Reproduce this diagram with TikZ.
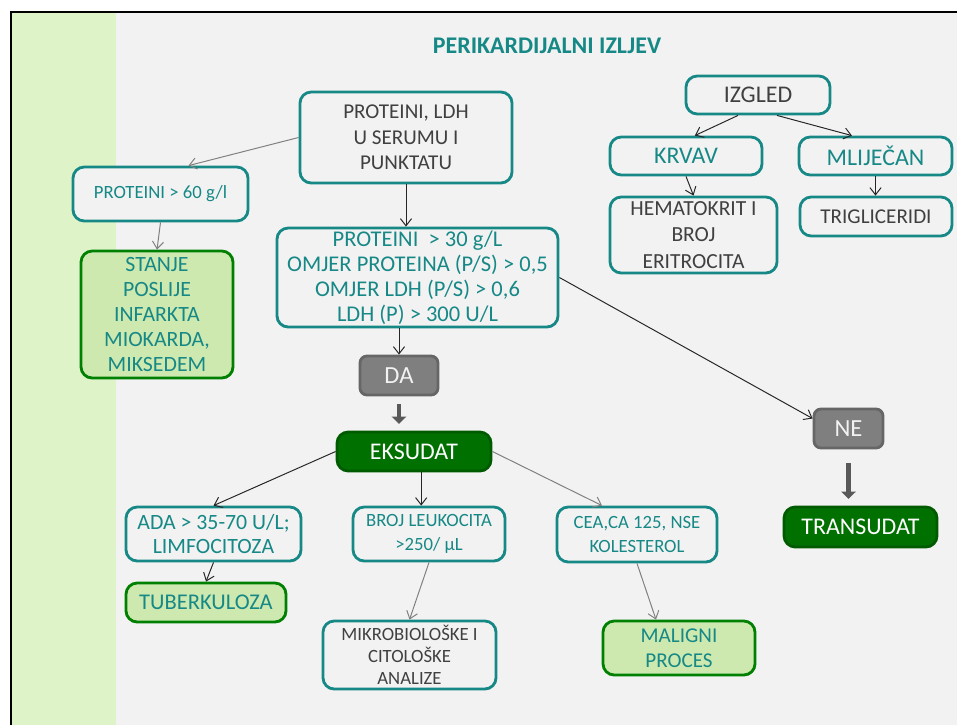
\documentclass[tikz,border=0pt]{standalone}
\usepackage{fontspec}
\setmainfont{Carlito}
\usepackage{xcolor}
\usepackage{tikz}
\usetikzlibrary{arrows.meta,positioning,calc}

\definecolor{tealline}{RGB}{22,136,134}
\definecolor{darktext}{RGB}{64,64,64}
\definecolor{lightgreen}{RGB}{205,233,175}
\definecolor{midgreen}{RGB}{0,128,0}
\definecolor{darkgreen}{RGB}{0,112,0}
\definecolor{boxgray}{RGB}{127,127,127}
\definecolor{bggray}{RGB}{242,242,242}
\definecolor{stripegreen}{RGB}{222,243,200}

\begin{document}
\begin{tikzpicture}[
    x=0.025cm, y=-0.025cm,
    box/.style={rectangle, draw=tealline, line width=2pt, rounded corners=8pt, fill=bggray, align=center, inner sep=1pt, font=\fontsize{15}{18}\selectfont},
    tealbox/.style={box, text=tealline},
    greybox/.style={box, text=darktext},
    resultbox/.style={box, draw=midgreen, fill=lightgreen, text=tealline},
    finalbox/.style={box, draw=darkgreen!80!black, fill=darkgreen, text=white, font=\fontsize{17}{20}\selectfont},
    answer/.style={box, draw=boxgray!80!black, fill=boxgray, text=bggray, rounded corners=5pt, font=\fontsize{17.5}{20}\selectfont},
    big/.style={font=\fontsize{17}{20}\selectfont},
    small/.style={font=\fontsize{13.3}{16.5}\selectfont},
    arrow/.style={-{Straight Barb[length=1.8mm, width=2.8mm]}, line width=0.7pt, color=black!85},
    greyarrow/.style={arrow, color=black!50},
    blockarrow/.style={-{Triangle[length=1.8mm, width=3.6mm]}, line width=3.5pt, color=black!65},
]

\useasboundingbox (0,0) rectangle (957,725);

% === BACKGROUND ===
\fill[bggray] (11,12) rectangle (957,725);
\fill[stripegreen] (11,12) rectangle (116,725);
\draw[line width=1.8pt] (11,725) -- (11,12) -- (957,12);

\node[text=tealline, font=\fontsize{17}{20}\selectfont\bfseries] (title) at (547,46) {PERIKARDIJALNI IZLJEV};

% === PROTEINI / LDH ===
\node[greybox, minimum width=5.3cm, minimum height=2.275cm] (serum) at (406,137.5) {PROTEINI, LDH\\U SERUMU I\\PUNKTATU};
\node[tealbox, minimum width=7.025cm, minimum height=2.475cm, font=\fontsize{16}{17.7}\selectfont] (criteria) at (417.5,277.5) {PROTEINI \ > 30 g/L\\OMJER PROTEINA (P/S) > 0,5\\OMJER LDH (P/S) > 0,6\\LDH (P) > 300 U/L};
\node[tealbox, small, minimum width=4.375cm, minimum height=1.35cm] (prot60) at (160.5,194) {PROTEINI > 60 g/l};
\node[resultbox, minimum width=3.8cm, minimum height=3.175cm, font=\fontsize{15.5}{17.7}\selectfont] (infarct) at (157,314.5) {STANJE\\POSLIJE\\INFARKTA\\MIOKARDA,\\MIKSEDEM};

\draw[greyarrow] (serum.west) -- ([xshift=0.7cm]prot60.north);
\draw[greyarrow] (prot60.south) -- (infarct.north);
\draw[arrow] (serum.south) -- (serum.south |- criteria.north);

% === IZGLED ===
\node[greybox, big, minimum width=3.6cm, minimum height=0.95cm] (izgled) at (758,95) {IZGLED};
\node[tealbox, big, minimum width=3.8cm, minimum height=0.95cm] (krvav) at (686,156) {KRVAV};
\node[tealbox, big, minimum width=3.825cm, minimum height=0.95cm] (mlijecan) at (875.5,156) {MLIJEČAN};
\node[greybox, minimum width=4.175cm, minimum height=1.9cm, font=\fontsize{15.3}{19}\selectfont] (hemat) at (693.5,235) {HEMATOKRIT I\\BROJ\\ERITROCITA};
\node[greybox, minimum width=3.8cm, minimum height=0.975cm, font=\fontsize{15}{18}\selectfont] (trig) at (876,216.5) {TRIGLICERIDI};

\draw[arrow] ([xshift=-0.5cm]izgled.south) -- ([xshift=0.22cm]krvav.north);
\draw[arrow] ([xshift=0.475cm]izgled.south) -- ([xshift=-0.59cm]mlijecan.north);
\draw[arrow] (krvav.south) -- (hemat.north);
\draw[arrow] (mlijecan.south) -- (mlijecan.south |- trig.north);

% === DA / NE ===
\node[answer, minimum width=1.95cm, minimum height=0.975cm] (da) at (399,375.5) {DA};
\node[answer, minimum width=1.725cm, minimum height=0.975cm] (ne) at (848.5,428.5) {NE};
\node[finalbox, minimum width=3.85cm, minimum height=0.975cm] (eksudat) at (414,451.5) {EKSUDAT};
\node[finalbox, minimum width=3.825cm, minimum height=1cm] (transudat) at (860.5,527) {TRANSUDAT};

\draw[arrow] (da.north |- criteria.south) -- (da.north);
\draw[arrow] (criteria.east) -- ([yshift=0.25cm]ne.west);
\draw[blockarrow, shorten <=0.2cm, shorten >=0.17cm] (da.south) -- (da.south |- eksudat.north);
\draw[blockarrow, shorten <=0.35cm, shorten >=0.17cm] (ne.south) -- (ne.south |- transudat.north);

% === EKSUDAT ===
\node[tealbox, minimum width=4.375cm, minimum height=1.35cm, font=\fontsize{15.5}{16.5}\selectfont] (ada) at (213.5,534) {ADA > 35-70 U/L;\\LIMFOCITOZA};
\node[resultbox, minimum width=4cm, minimum height=0.975cm, font=\fontsize{16}{18}\selectfont] (tbc) at (206,602.5) {TUBERKULOZA};
\node[tealbox, small, minimum width=3.8cm, minimum height=1.35cm] (leuko) at (429,534) {BROJ LEUKOCITA\\>250/ µL};
\node[greybox, minimum width=4.325cm, minimum height=1.7cm, font=\fontsize{13.3}{15.5}\selectfont] (mikro) at (409.5,655) {MIKROBIOLOŠKE I\\CITOLOŠKE\\ANALIZE};
\node[tealbox, small, minimum width=4cm, minimum height=1.375cm] (cea) at (637,534.5) {CEA,CA 125, NSE\\KOLESTEROL};
\node[resultbox, minimum width=3.8cm, minimum height=1.35cm, font=\fontsize{15}{18}\selectfont] (malig) at (679,648) {MALIGNI\\PROCES};

\draw[arrow] (eksudat.west) -- (ada.north);
\draw[arrow] ([xshift=0.18cm]eksudat.south) -- ([xshift=0.18cm]eksudat.south |- leuko.north);
\draw[greyarrow] (eksudat.east) -- ([xshift=-0.875cm]cea.north);
\draw[arrow] (ada.south) -- (tbc.north);
\draw[greyarrow] (leuko.south) -- (mikro.north);
\draw[greyarrow] (cea.south) -- ([xshift=-0.575cm]malig.north);

\end{tikzpicture}
\end{document}
